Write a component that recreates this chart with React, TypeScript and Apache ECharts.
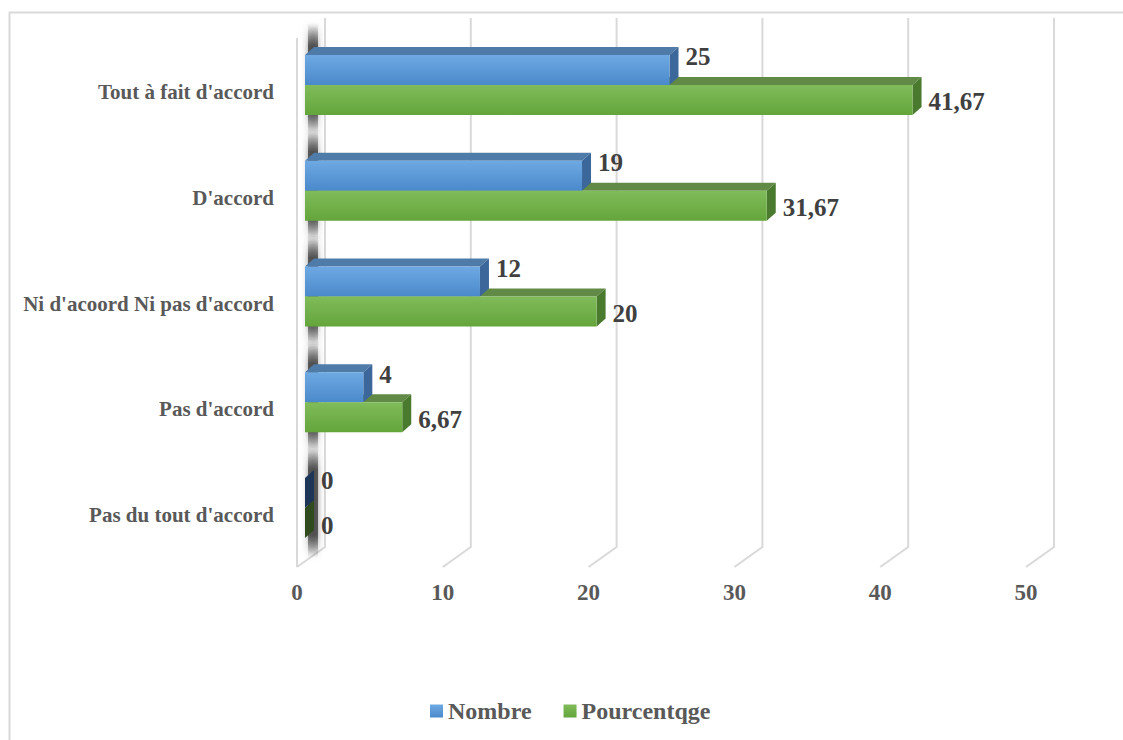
import React, { useEffect, useRef } from "react";
import * as echarts from "echarts";

// Survey answers, top to bottom
const categories = [
  "Tout à fait d'accord",
  "D'accord",
  "Ni d'acoord Ni pas d'accord",
  "Pas d'accord",
  "Pas du tout d'accord",
];
const nombre = [25, 19, 12, 4, 0];
const pourcentage = [41.67, 31.67, 20, 6.67, 0];
const xTicks = [0, 10, 20, 30, 40, 50];
const seriesNames = ["Nombre", "Pourcentqge"];

const SERIF = "'Liberation Serif', 'Times New Roman', serif";

// bar thickness and pseudo-3D depth of the bars
const BAR = 30;
const DX = 9;
const DY = 8;
// offset of the bars' plane from the front and back of the box
const FRONT_DX = -8;
const FRONT_DY = 6;
const BACK_DX = 20;
const BACK_DY = -14;

const fmt = (v: number) => String(v).replace(".", ",");

const vGrad = (top: string, bottom: string) =>
  new echarts.graphic.LinearGradient(0, 0, 0, 1, [
    { offset: 0, color: top },
    { offset: 1, color: bottom },
  ]);

const faceColors = [
  { top: "#4f7ba8", side: "#3b679a", zeroSide: "#1d3557" },
  { top: "#628a47", side: "#4a7a2e", zeroSide: "#2f4a1c" },
];

export default function App() {
  const ref = useRef<HTMLDivElement>(null);

  useEffect(() => {
    if (!ref.current) return;
    const chart = echarts.init(ref.current, undefined, { renderer: "svg" });

    const faceData: number[][] = [];
    [pourcentage, nombre].forEach((arr, k) => {
      const s = k === 0 ? 1 : 0;
      arr.forEach((v, i) => faceData.push([v, i, s]));
    });

    const option: any = {
      animation: false,
      backgroundColor: "#ffffff",
      graphic: [
        {
          type: "rect",
          left: 7,
          top: 10,
          shape: { width: 1140, height: 760 },
          style: { fill: "none", stroke: "#d9d9d9", lineWidth: 2 },
          silent: true,
        },
      ],
      grid: { left: 305, top: 32, width: 729, height: 529 },
      legend: {
        data: seriesNames,
        left: 425,
        top: 694,
        icon: "rect",
        itemWidth: 13,
        itemHeight: 13,
        itemGap: 32,
        textStyle: {
          fontFamily: SERIF,
          fontWeight: "bold",
          fontSize: 24,
          color: "#595959",
        },
      },
      xAxis: {
        type: "value",
        min: 0,
        max: 50,
        interval: 10,
        axisLine: { show: false },
        axisTick: { show: false },
        splitLine: { show: false },
        axisLabel: {
          margin: 20,
          padding: [0, 16, 0, 0],
          fontFamily: SERIF,
          fontWeight: "bold",
          fontSize: 23,
          color: "#595959",
        },
      },
      yAxis: {
        type: "category",
        inverse: true,
        data: categories,
        axisLine: { show: false },
        axisTick: { show: false },
        splitLine: { show: false },
        axisLabel: { show: false },
      },
      series: [
        {
          // box outline: back wall gridlines and floor edges
          type: "custom",
          name: "grid3d",
          silent: true,
          clip: false,
          z: 0,
          encode: { x: 0, y: 1 },
          data: xTicks.map((t) => [t, 0]),
          renderItem: (params: any, api: any) => {
            const cs = params.coordSys;
            const p = api.coord([api.value(0), 0]);
            const yTop = cs.y;
            const yBot = cs.y + cs.height;
            const style = { stroke: "#d9d9d9", lineWidth: 2, fill: "none" };
            const children: any[] = [
              {
                type: "polyline",
                shape: {
                  points: [
                    [p[0] + BACK_DX, yTop + BACK_DY],
                    [p[0] + BACK_DX, yBot + BACK_DY],
                    [p[0] + FRONT_DX, yBot + FRONT_DY],
                  ],
                },
                style,
              },
            ];
            if (api.value(0) === 0) {
              children.push({
                type: "line",
                shape: {
                  x1: p[0] + FRONT_DX,
                  y1: yTop + FRONT_DY,
                  x2: p[0] + FRONT_DX,
                  y2: yBot + FRONT_DY,
                },
                style,
              });
            }
            return { type: "group", children };
          },
        },
        {
          // category names on the floor edge, plus the soft shadows
          // the bars cast on the left wall
          type: "custom",
          name: "wallShadow",
          silent: true,
          clip: false,
          z: 1,
          encode: { x: 0, y: 1 },
          data: categories.map((_, i) => [0, i]),
          renderItem: (params: any, api: any) => {
            const ci = api.value(1);
            const c = api.coord([0, ci]);
            const h = BAR * 2 + 50;
            return {
              type: "group",
              children: [
                {
                  type: "rect",
                  shape: { x: c[0] + 3, y: c[1] - h / 2 - 6, width: 10, height: h },
                  style: {
                    fill: new echarts.graphic.LinearGradient(0, 0, 0, 1, [
                      { offset: 0, color: "rgba(60,60,60,0)" },
                      { offset: 0.2, color: "rgba(60,60,60,0.8)" },
                      { offset: 0.8, color: "rgba(60,60,60,0.8)" },
                      { offset: 1, color: "rgba(60,60,60,0)" },
                    ]),
                    shadowBlur: 6,
                    shadowColor: "rgba(60,60,60,0.7)",
                  },
                },
                {
                  type: "text",
                  x: c[0] - 31,
                  y: c[1] + 7,
                  style: {
                    text: categories[ci],
                    align: "right",
                    verticalAlign: "middle",
                    fontFamily: SERIF,
                    fontWeight: "bold",
                    fontSize: 21,
                    fill: "#595959",
                  },
                },
              ],
            };
          },
        },
        {
          // top and end faces of the bars
          type: "custom",
          name: "faces3d",
          silent: true,
          clip: false,
          z: 2,
          encode: { x: 0, y: 1 },
          data: faceData,
          renderItem: (params: any, api: any) => {
            const v = api.value(0);
            const ci = api.value(1);
            const s = api.value(2);
            const base = api.coord([0, ci]);
            const end = api.coord([v, ci]);
            const yTop = base[1] + (s === 0 ? -BAR : 0);
            const yBot = yTop + BAR;
            const x0 = base[0];
            const x1 = end[0];
            const col = faceColors[s];
            const children: any[] = [];
            if (v > 0) {
              children.push({
                type: "polygon",
                shape: {
                  points: [
                    [x0, yTop],
                    [x1, yTop],
                    [x1 + DX, yTop - DY],
                    [x0 + DX, yTop - DY],
                  ],
                },
                style: { fill: col.top },
              });
            }
            children.push({
              type: "polygon",
              shape: {
                points: [
                  [x1, yTop],
                  [x1 + DX, yTop - DY],
                  [x1 + DX, yBot - DY],
                  [x1, yBot],
                ],
              },
              style: { fill: v > 0 ? col.side : col.zeroSide },
            });
            return { type: "group", children };
          },
        },
        {
          type: "bar",
          name: seriesNames[0],
          data: nombre,
          barWidth: BAR,
          barGap: "0%",
          z: 3,
          itemStyle: { color: vGrad("#6ea9e3", "#4a89cb") },
          label: {
            show: true,
            position: "right",
            distance: 16,
            offset: [0, -13],
            formatter: (p: any) => fmt(p.value),
            fontFamily: SERIF,
            fontWeight: "bold",
            fontSize: 25,
            color: "#404040",
          },
        },
        {
          type: "bar",
          name: seriesNames[1],
          data: pourcentage,
          barWidth: BAR,
          barGap: "0%",
          z: 3,
          itemStyle: { color: vGrad("#80bc5a", "#64a53b") },
          label: {
            show: true,
            position: "right",
            distance: 16,
            offset: [0, 2],
            formatter: (p: any) => fmt(p.value),
            fontFamily: SERIF,
            fontWeight: "bold",
            fontSize: 25,
            color: "#404040",
          },
        },
      ],
    };

    chart.setOption(option);
    return () => chart.dispose();
  }, []);

  return (
    <div
      ref={ref}
      style={{ position: "fixed", left: 0, top: 0, width: 1123, height: 740 }}
    />
  );
}
